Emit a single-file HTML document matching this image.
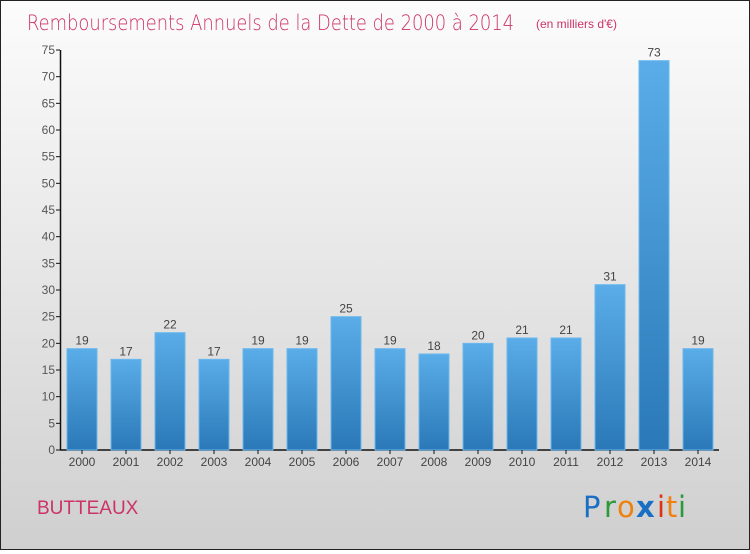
<!DOCTYPE html>
<html><head><meta charset="utf-8"><style>
html,body{margin:0;padding:0}
body{width:750px;height:550px;overflow:hidden;font-family:"Liberation Sans",sans-serif}
#wrap{position:relative;width:748px;height:548px;border:1px solid #222;background:linear-gradient(#fcfcfc 0%,#e6e6e6 50%,#cfcfcf 100%)}
</style></head><body>
<div id="wrap">
<svg id="svg" width="748" height="548" xmlns="http://www.w3.org/2000/svg">
<defs><linearGradient id="bg" x1="0" y1="0" x2="0" y2="1"><stop offset="0" stop-color="#5aade8"/><stop offset="1" stop-color="#2a78b8"/></linearGradient></defs>
<text x="26" y="29" font-size="21" fill="#cc3366" style="font-family:'DejaVu Sans',sans-serif;font-weight:200" textLength="487" lengthAdjust="spacingAndGlyphs">Remboursements Annuels de la Dette de 2000 à 2014</text>
<text x="535" y="27" font-size="12" fill="#cc3366">(en milliers d'€)</text>
<text x="36" y="513" font-size="19" fill="#cc3366">BUTTEAUX</text>
<g font-size="29" font-family="'DejaVu Sans',sans-serif">
<text x="582" y="516" fill="#1a6fc4">P</text><text x="603" y="516" fill="#2a9a3a">r</text><text x="616" y="516" fill="#f08010">o</text><text x="635" y="516" fill="#1a6fc4" style="font-weight:bold">x</text><text x="656" y="516" fill="#e03010">i</text><text x="665" y="516" fill="#f08010">t</text><text x="677" y="516" fill="#2a9a3a">i</text>
</g>
<g id="plot"></g>
</svg></div>
<script>
const categories=["2000","2001","2002","2003","2004","2005","2006","2007","2008","2009","2010","2011","2012","2013","2014"];
const values=[19,17,22,17,19,19,25,19,18,20,21,21,31,73,19];
const yTicks=[0,5,10,15,20,25,30,35,40,45,50,55,60,65,70,75];
const NS="http://www.w3.org/2000/svg";
const g=document.getElementById('plot');
const y0=449,yMax=49;
function y(v){return y0-(v/75)*(y0-yMax);}
function x(i){return 81+i*44;}
function mk(t,a,p){const e=document.createElementNS(NS,t);for(const k in a)e.setAttribute(k,a[k]);(p||g).appendChild(e);return e;}
const ax=mk('line',{x1:59.5,y1:y(75),x2:59.5,y2:y0,stroke:'#111','stroke-width':1.5});


const xa=mk('line',{x1:59,y1:y0,x2:718,y2:y0,stroke:'#111','stroke-width':1.5});


yTicks.forEach(v=>{
 const tk=mk('line',{x1:55,y1:y(v),x2:59,y2:y(v),stroke:'#111'});
 
 
 const t=mk('text',{x:54,y:y(v)+4,'font-size':12,'text-anchor':'end',fill:'#555'});
 t.textContent=v;
 
 
});
categories.forEach((c,i)=>{
 const cx=x(i),v=values[i];
 const r=mk('rect',{x:cx-15,y:y(v),width:30,height:y0-y(v),fill:'url(#bg)',stroke:'#6bb8ee','stroke-width':1});
 
 
 const lt=mk('text',{x:cx,y:y(v)-4,'font-size':12,'text-anchor':'middle',fill:'#444'});
 lt.textContent=v;
 
 
 const tk=mk('line',{x1:cx,y1:y0,x2:cx,y2:y0+4,stroke:'#111'});
 
 
 const xt=mk('text',{x:cx,y:y0+16,'font-size':12,'text-anchor':'middle',fill:'#444'});
 xt.textContent=c;
 
 
});
</script>
</body></html>
